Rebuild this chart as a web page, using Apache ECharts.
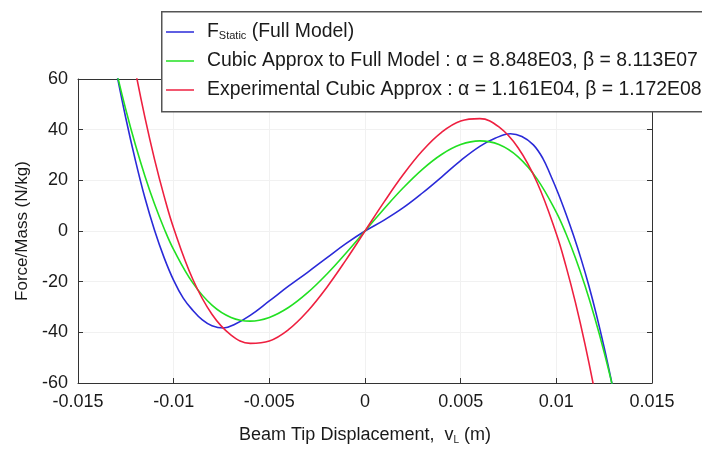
<!DOCTYPE html>
<html>
<head>
<meta charset="utf-8">
<script src="https://cdn.jsdelivr.net/npm/echarts@6/dist/echarts.min.js"></script>
<style>html,body{margin:0;padding:0;background:#fff}#c{width:702px;height:450px}</style>
</head>
<body>
<div id="c"></div>
<script>
// Tick labels
const xTicks = [-0.015, -0.01, -0.005, 0, 0.005, 0.01, 0.015];
const yTicks = [-60, -40, -20, 0, 20, 40, 60];

// Legend names
const names = ['F_Static (Full Model)',
  'Cubic Approx to Full Model : α = 8.848E03, β = 8.113E07',
  'Experimental Cubic Approx : α = 1.161E04, β = 1.172E08'];

// F_static (full model)
const blueV = [-0.0133,-0.013,-0.0125,-0.012,-0.0115,-0.011,-0.0105,-0.01,-0.0095,-0.009,-0.0085,-0.008,-0.0074,-0.0068,-0.006,-0.005,-0.004,-0.003,-0.002,-0.001,0,0.001,0.002,0.003,0.004,0.005,0.006,0.0068,0.0076,0.0082,0.0088,0.0093,0.0097,0.0101,0.0105,0.0109,0.0113,0.0117,0.0121,0.0125,0.0129,0.0133];
const blueF = [75,63,44.5,27.9,13,0.3,-10.5,-19.5,-26.5,-31.3,-35.1,-37.4,-38.3,-36.8,-33.3,-27.6,-21.8,-16.3,-10.6,-5,0,4.3,9.2,15,21.3,27.8,33.4,36.6,38.4,37.3,34,28.6,22,14.8,6.8,-1.8,-11.2,-21.6,-33.2,-46,-60,-75];

// Cubic approximations
const cubicV = [-0.0135,-0.013,-0.0125,-0.012,-0.0115,-0.011,-0.0105,-0.01,-0.009,-0.008,-0.007,-0.006,-0.005,-0.004,-0.003,-0.002,-0.001,0,0.001,0.002,0.003,0.004,0.005,0.006,0.007,0.008,0.009,0.01,0.0105,0.011,0.0115,0.012,0.0125,0.013,0.0135];
const greenF = [80.16,63.22,47.86,34.02,21.64,10.66,1.01,-7.35,-20.49,-29.25,-34.11,-35.56,-34.10,-30.20,-24.35,-17.05,-8.77,0,8.77,17.05,24.35,30.20,34.10,35.56,34.11,29.25,20.49,7.35,-1.01,-10.66,-21.64,-34.02,-47.86,-63.22,-80.16];
const redF = [131.6,106.56,83.79,63.20,44.74,28.28,13.77,1.10,-19.05,-32.87,-41.07,-44.35,-43.40,-38.94,-31.67,-22.28,-11.49,0,11.49,22.28,31.67,38.94,43.40,44.35,41.07,32.87,19.05,-1.10,-13.77,-28.28,-44.74,-63.20,-83.79,-106.56,-131.6];

const pairs = (xs, ys) => xs.map((x, i) => [x, ys[i]]);
const FONT = '"Liberation Sans", Arial, sans-serif';
const TXT = '#1a1a1a';

const chart = echarts.init(document.getElementById('c'), null, {renderer: 'canvas'});
const xStep = xTicks[1] - xTicks[0];
const yStep = yTicks[1] - yTicks[0];
const fmtX = v => String(+v.toFixed(3));

const axisLine = {show: true, onZero: false, lineStyle: {color: '#333', width: 1}};
const tick = {show: true, inside: true, length: 5, lineStyle: {color: '#333', width: 1}};

chart.setOption({
  animation: false,
  backgroundColor: '#fff',
  grid: {left: 78, right: 50, top: 79, bottom: 62, containLabel: false},
  xAxis: [{
    type: 'value', min: xTicks[0], max: xTicks[xTicks.length - 1], interval: xStep,
    axisLine, axisTick: tick,
    axisLabel: {formatter: fmtX, fontSize: 18, color: TXT, fontFamily: FONT, margin: 10},
    splitLine: {show: true, lineStyle: {color: '#f1f1f1'}},
    name: 'Beam Tip Displacement,  v{s|L} (m)', nameLocation: 'middle', nameGap: 42,
    nameTextStyle: {fontSize: 18, color: TXT, fontFamily: FONT,
      rich: {s: {fontSize: 10, fontFamily: FONT, color: TXT, padding: [10, 0, 0, 0]}}}
  }, {
    type: 'value', position: 'top', min: xTicks[0], max: xTicks[xTicks.length - 1], interval: xStep,
    axisLine, axisTick: tick, axisLabel: {show: false}, splitLine: {show: false}
  }],
  yAxis: [{
    type: 'value', min: yTicks[0], max: yTicks[yTicks.length - 1], interval: yStep,
    axisLine, axisTick: tick,
    axisLabel: {fontSize: 18, color: TXT, fontFamily: FONT, margin: 10},
    splitLine: {show: true, lineStyle: {color: '#f1f1f1'}},
    name: 'Force/Mass (N/kg)', nameLocation: 'middle', nameGap: 46, nameRotate: 90,
    nameTextStyle: {fontSize: 17, color: TXT, fontFamily: FONT}
  }, {
    type: 'value', position: 'right', min: yTicks[0], max: yTicks[yTicks.length - 1], interval: yStep,
    axisLine, axisTick: tick, axisLabel: {show: false}, splitLine: {show: false}
  }],
  legend: {
    orient: 'vertical', left: 161, top: 17, z: 120,
    icon: 'rect', itemWidth: 28, itemHeight: 1.5, itemGap: 9,
    data: names,
    formatter: n => n === names[0] ? '{m|F}{s|Static}{m| (Full Model)}' : '{m|' + n + '}',
    textStyle: {
      fontSize: 19.4, color: TXT, fontFamily: FONT, lineHeight: 20, padding: [0, 0, 0, 8],
      rich: {
        m: {fontSize: 19.4, fontFamily: FONT, color: TXT, lineHeight: 20},
        s: {fontSize: 11, fontFamily: FONT, color: TXT, padding: [8, 0, 0, 0]}
      }
    }
  },
  graphic: [{
    type: 'rect', z: 110, left: 161, top: 11,
    shape: {width: 580, height: 100},
    style: {fill: '#fff', stroke: '#555', lineWidth: 1.5}
  }],
  series: [
    {name: names[0], type: 'line', data: pairs(blueV, blueF), showSymbol: false, symbol: 'none',
      smooth: 0.4, clip: true, lineStyle: {color: '#2a2ad8', width: 1.6}, itemStyle: {color: '#2a2ad8'}},
    {name: names[1], type: 'line', data: pairs(cubicV, greenF), showSymbol: false, symbol: 'none',
      smooth: 0.4, clip: true, lineStyle: {color: '#22e022', width: 1.6}, itemStyle: {color: '#22e022'}},
    {name: names[2], type: 'line', data: pairs(cubicV, redF), showSymbol: false, symbol: 'none',
      smooth: 0.4, clip: true, lineStyle: {color: '#ee2040', width: 1.6}, itemStyle: {color: '#ee2040'}}
  ]
});
</script>
</body>
</html>
